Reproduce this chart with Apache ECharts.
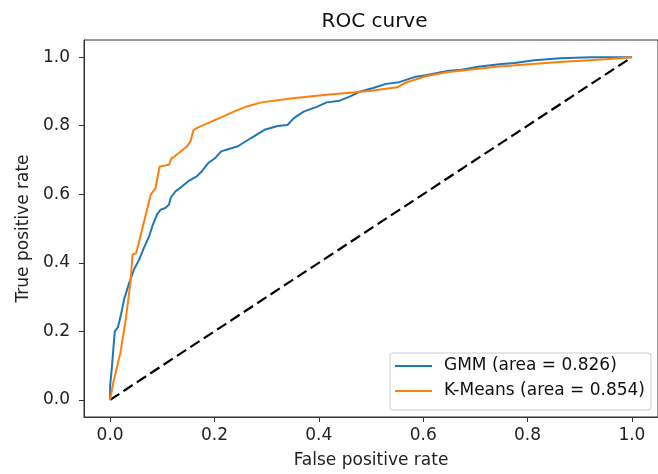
<!DOCTYPE html>
<html>
<head>
<meta charset="utf-8">
<script src="https://cdn.jsdelivr.net/npm/echarts@6/dist/echarts.min.js"></script>
<style>
html,body{margin:0;padding:0;background:#fff;}
#chart{width:658px;height:474px;}
</style>
</head>
<body>
<div id="chart"></div>
<script>
const titleText = 'ROC curve';
const xLabel = 'False positive rate';
const yLabel = 'True positive rate';
const tickValues = [0, 0.2, 0.4, 0.6, 0.8, 1.0];

const gmmName = 'GMM (area = 0.826)';
const gmmFpr = [0, 0, 0.002, 0.004, 0.007, 0.009, 0.015, 0.021, 0.027, 0.037, 0.046, 0.056, 0.065, 0.075, 0.081, 0.090, 0.097, 0.106, 0.113, 0.116, 0.125, 0.138, 0.150, 0.166, 0.176, 0.188, 0.201, 0.213, 0.223, 0.245, 0.270, 0.296, 0.321, 0.340, 0.352, 0.371, 0.396, 0.415, 0.440, 0.459, 0.478, 0.504, 0.529, 0.554, 0.586, 0.605, 0.649, 0.674, 0.705, 0.750, 0.775, 0.813, 0.863, 0.920, 1.0];
const gmmTpr = [0, 0.042, 0.071, 0.105, 0.163, 0.200, 0.212, 0.250, 0.294, 0.343, 0.381, 0.410, 0.444, 0.478, 0.507, 0.541, 0.555, 0.560, 0.570, 0.589, 0.608, 0.623, 0.638, 0.652, 0.667, 0.691, 0.705, 0.725, 0.730, 0.740, 0.764, 0.788, 0.799, 0.802, 0.822, 0.841, 0.855, 0.868, 0.873, 0.885, 0.899, 0.910, 0.922, 0.927, 0.943, 0.947, 0.960, 0.963, 0.972, 0.980, 0.983, 0.991, 0.997, 1.0, 1.0];

const kmName = 'K-Means (area = 0.854)';
const kmFpr = [0, 0.006, 0.020, 0.030, 0.039, 0.043, 0.050, 0.078, 0.087, 0.095, 0.113, 0.117, 0.125, 0.147, 0.154, 0.160, 0.166, 0.245, 0.260, 0.290, 0.350, 0.415, 0.497, 0.550, 0.567, 0.605, 0.645, 0.740, 0.860, 0.950, 1.0];
const kmTpr = [0, 0.050, 0.139, 0.235, 0.342, 0.424, 0.428, 0.599, 0.618, 0.681, 0.686, 0.703, 0.712, 0.739, 0.754, 0.788, 0.793, 0.846, 0.855, 0.868, 0.880, 0.890, 0.901, 0.912, 0.926, 0.944, 0.956, 0.972, 0.986, 0.994, 1.0];

const diagX = [0, 1];
const diagY = [0, 1];

const zip = (a, b) => a.map((v, i) => [v, b[i]]);

const chart = echarts.init(document.getElementById('chart'), null, {renderer: 'canvas'});
const axisColor = '#333';
const font = 'DejaVu Sans';

chart.setOption({
  backgroundColor: '#fff',
  animation: false,
  textStyle: {fontFamily: font},
  grid: {left: 84, top: 40, right: -7, bottom: 56, show: true, borderColor: axisColor, borderWidth: 1, backgroundColor: 'transparent'},
  graphic: [{
    type: 'text', x: 374.5, y: 22,
    style: {text: titleText, fill: '#111', font: '20px "DejaVu Sans"', align: 'center', verticalAlign: 'middle'}
  }],
  legend: {
    left: 390, top: 353,
    orient: 'vertical',
    data: [gmmName, kmName],
    icon: 'rect', itemWidth: 37, itemHeight: 2,
    itemGap: 3,
    padding: [2, 6, 8, 5],
    backgroundColor: 'rgba(255,255,255,0.8)',
    borderColor: '#ccc', borderWidth: 1, borderRadius: 3,
    textStyle: {fontFamily: font, fontSize: 17, color: '#111', lineHeight: 22, padding: [0, 0, 0, 7]}
  },
  xAxis: {
    type: 'value', min: -0.05, max: 1.05,
    axisLine: {show: true, onZero: false, lineStyle: {color: axisColor, width: 1}},
    axisTick: {show: true, length: 5, lineStyle: {color: axisColor}, customValues: tickValues},
    axisLabel: {customValues: tickValues, formatter: v => v.toFixed(1), fontSize: 17, color: '#222', margin: 10, fontFamily: font},
    splitLine: {show: false},
    name: xLabel, nameLocation: 'middle', nameGap: 35,
    nameTextStyle: {fontSize: 17, color: '#222', fontFamily: font}
  },
  yAxis: {
    type: 'value', min: -0.05, max: 1.05,
    axisLine: {show: true, onZero: false, lineStyle: {color: axisColor, width: 1}},
    axisTick: {show: true, length: 5, lineStyle: {color: axisColor}, customValues: tickValues},
    axisLabel: {customValues: tickValues, formatter: v => v.toFixed(1), fontSize: 17, color: '#222', margin: 14, fontFamily: font},
    splitLine: {show: false},
    name: yLabel, nameLocation: 'middle', nameGap: 50,
    nameTextStyle: {fontSize: 17, color: '#222', fontFamily: font}
  },
  series: [
    {
      type: 'line', name: 'chance', data: zip(diagX, diagY), symbol: 'none',
      lineStyle: {color: '#000', width: 2.2, type: [11, 5]}, silent: true
    },
    {
      type: 'line', name: gmmName, data: zip(gmmFpr, gmmTpr), symbol: 'none',
      itemStyle: {color: '#1f77b4'}, lineStyle: {color: '#1f77b4', width: 2}
    },
    {
      type: 'line', name: kmName, data: zip(kmFpr, kmTpr), symbol: 'none',
      itemStyle: {color: '#ff7f0e'}, lineStyle: {color: '#ff7f0e', width: 2}
    }
  ]
});
</script>
</body>
</html>
